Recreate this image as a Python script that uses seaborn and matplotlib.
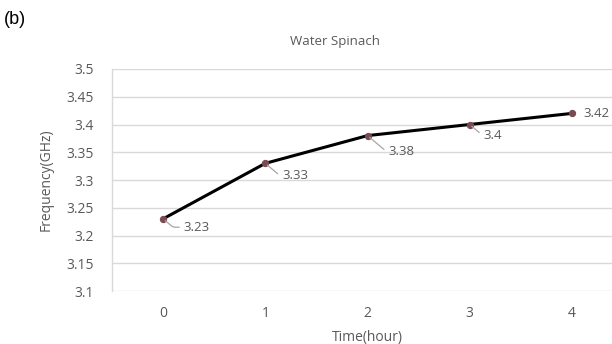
import matplotlib
matplotlib.use("Agg")
import matplotlib.pyplot as plt
import seaborn as sns
import pandas as pd

hours = [0, 1, 2, 3, 4]
freq = [3.23, 3.33, 3.38, 3.40, 3.42]
labels = ["3.23", "3.33", "3.38", "3.4", "3.42"]
yticks = [3.1, 3.15, 3.2, 3.25, 3.3, 3.35, 3.4, 3.45, 3.5]
ytick_labels = ["3.1", "3.15", "3.2", "3.25", "3.3", "3.35", "3.4", "3.45", "3.5"]

sns.set_theme(style="white")
plt.rcParams['font.family'] = ['Open Sans', 'DejaVu Sans']

df = pd.DataFrame({"Time": hours, "Freq": freq})

fig = plt.figure(figsize=(6.12, 3.44), dpi=100)
ax = fig.add_axes([112/612, 1-291/344, 511/612, 222/344])

sns.lineplot(data=df, x="Time", y="Freq", ax=ax, color="black", linewidth=2.2,
             marker="o", markersize=4.5, markerfacecolor="#7a4a52",
             markeredgecolor="#7a4a52", zorder=3)

ax.set_xlim(-0.5, 4.5)
ax.set_ylim(3.1, 3.5)
ax.set_yticks(yticks)
ax.set_yticklabels(ytick_labels)
ax.set_xticks(hours)
ax.set_xticklabels([str(h) for h in hours])
ax.grid(axis="y", color="#d9d9d9", linewidth=1)
ax.grid(axis="x", visible=False)
for s in ["top", "right", "bottom"]:
    ax.spines[s].set_visible(False)
ax.spines["left"].set_color("#d9d9d9")
ax.spines["left"].set_linewidth(1)
ax.tick_params(axis="both", labelsize=10, colors="#595959", length=0)
ax.tick_params(axis="y", pad=13)
ax.tick_params(axis="x", pad=11)

ax.set_xlabel("Time(hour)", fontsize=10, color="#595959", labelpad=6)
ax.set_ylabel("Frequency(GHz)", fontsize=10, color="#595959", labelpad=9)
ax.set_title("Water Spinach", fontsize=9.5, color="#595959", pad=17, x=0.436)

offsets = [(15, -6), (12, -9), (15, -11.5), (10, -8), (8, 0)]
for x, y, lab, off in zip(hours, freq, labels, offsets):
    arrow = None
    if off[1] != 0:
        arrow = dict(arrowstyle="-", color="#a6a6a6", lw=0.9,
                     connectionstyle="angle,angleA=0,angleB=-40,rad=2",
                     relpos=(0, 0.5), shrinkA=1, shrinkB=2)
    ax.annotate(lab, xy=(x, y), xytext=off, textcoords="offset points",
                fontsize=9.5, color="#595959", ha="left", va="center",
                arrowprops=arrow)

fig.text(4/612, 1-20/344, "(b)", fontsize=13, color="black", va="center",
         family=["Liberation Sans", "DejaVu Sans"])

fig.savefig("out.png", dpi=100)
